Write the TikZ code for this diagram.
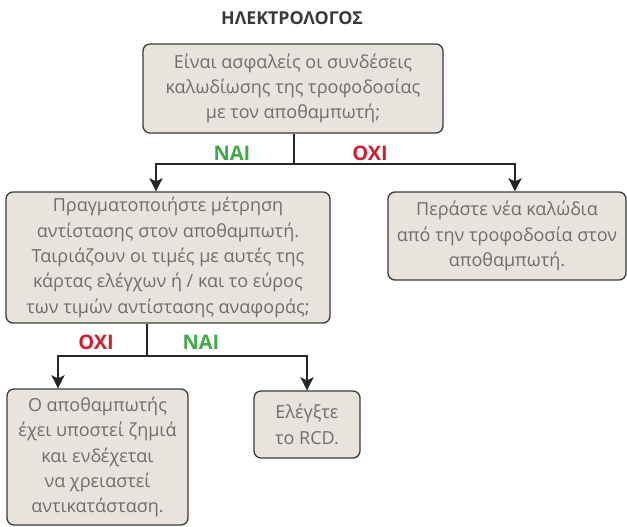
\documentclass[tikz,border=0pt]{standalone}
\usepackage{fontspec}
\setmainfont{Open Sans}
\usetikzlibrary{arrows.meta}
\definecolor{boxfill}{HTML}{E8E3DC}
\definecolor{boxdraw}{HTML}{3C3C3C}
\definecolor{txt}{HTML}{6E6E6E}
\definecolor{lin}{HTML}{262626}
\definecolor{yesc}{HTML}{3EAA48}
\definecolor{noc}{HTML}{D01F2E}
\definecolor{ttl}{HTML}{3A3A3A}
\tikzset{
  box/.style={draw=boxdraw, line width=1.3pt, fill=boxfill, rounded corners=7pt,
    text=txt, align=center, inner sep=0pt,
    font=\fontsize{18}{25.4}\selectfont},
  conn/.style={draw=lin, line width=2.8pt},
  arr/.style={conn, -{Stealth[length=13pt,width=13pt,inset=3pt]}},
  yes/.style={text=yesc, font=\fontsize{20}{22}\selectfont\bfseries},
  no/.style={text=noc, font=\fontsize{20}{22}\selectfont\bfseries},
}
\begin{document}
\begin{tikzpicture}[x=1pt,y=-1pt]
\useasboundingbox (0,0) rectangle (627,527);
\node[text=ttl, font=\fontsize{17.8}{20}\selectfont\bfseries] (title) at (292,18) {ΗΛΕΚΤΡΟΛΟΓΟΣ};
\node[box, minimum width=300pt, minimum height=89pt] (b1) at (293,88.5)
  {Είναι ασφαλείς οι συνδέσεις\\καλωδίωσης της τροφοδοσίας\\με τον αποθαμπωτή;};
\node[box, minimum width=324pt, minimum height=131pt] (b2) at (168,257.5)
  {Πραγματοποιήστε μέτρηση\\αντίστασης στον αποθαμπωτή.\\Ταιριάζουν οι τιμές με αυτές της\\κάρτας ελέγχων ή / και το εύρος\\των τιμών αντίστασης αναφοράς;};
\node[box, minimum width=238pt, minimum height=88pt] (b3) at (507,236)
  {Περάστε νέα καλώδια\\από την τροφοδοσία στον\\αποθαμπωτή.};
\node[box, minimum width=181pt, minimum height=136pt] (b4) at (97.5,457)
  {Ο αποθαμπωτής\\έχει υποστεί ζημιά\\και ενδέχεται\\να χρειαστεί\\αντικατάσταση.};
\node[box, minimum width=106pt, minimum height=67pt] (b5) at (307,424.5)
  {Ελέγξτε\\το RCD.};
% first branch
\coordinate (j1) at (294,164);
\coordinate (l1) at (156,164);
\coordinate (r1) at (515,164);
\draw[conn] (b1.south -| j1) -- (j1);
\draw[arr] (j1) -- (l1) -- (l1 |- b2.north);
\draw[arr] (j1) -- (r1) -- (r1 |- b3.north);
\node[yes] (y1) at (232,153) {ΝΑΙ};
\node[no] (n1) at (370,153) {ΟΧΙ};
% second branch
\coordinate (j2) at (147,356);
\coordinate (l2) at (58,356);
\coordinate (r2) at (307,356);
\draw[conn] (b2.south -| j2) -- (j2);
\draw[arr] (j2) -- (l2) -- (l2 |- b4.north);
\draw[arr] (j2) -- (r2) -- (b5.north);
\node[no] (n2) at (96,342) {ΟΧΙ};
\node[yes] (y2) at (201,342) {ΝΑΙ};
\end{tikzpicture}
\end{document}
